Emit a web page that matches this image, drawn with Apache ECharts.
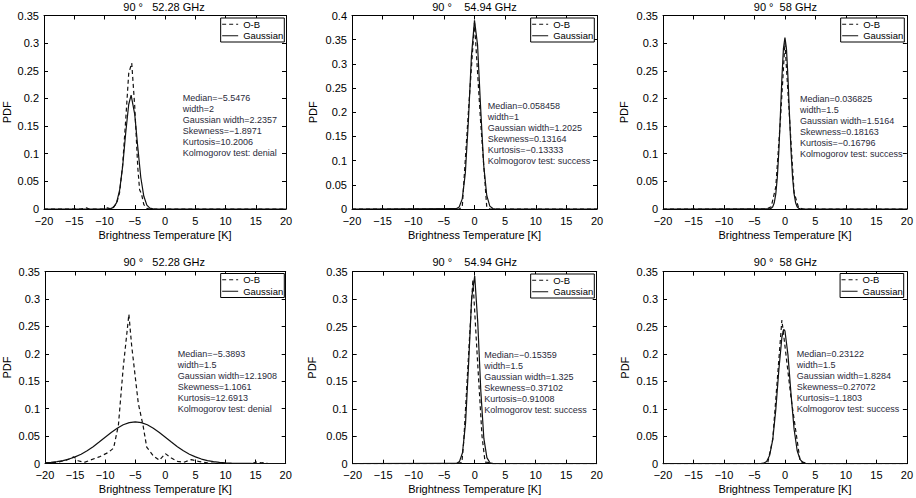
<!DOCTYPE html>
<html><head><meta charset="utf-8">
<script src="https://cdn.jsdelivr.net/npm/echarts@6/dist/echarts.min.js"></script>
<style>html,body{margin:0;padding:0;background:#fff}#c{width:916px;height:498px}</style>
</head><body><div id="c"></div>
<script>
// ---- data ----
const xMin = -20, xMax = 20, xStep = 5;
const yMaxes = [0.35, 0.4, 0.35, 0.35, 0.35, 0.35];
const panelTitles = ['90 °   52.28 GHz', '90 °    54.94 GHz', '90 °  58 GHz',
                     '90 °   52.28 GHz', '90 °    54.94 GHz', '90 °  58 GHz'];
const seriesNames = ['O-B', 'Gaussian'];

const obP1 = [[-20,0],[-14,0],[-13,0.002],[-12.5,0],[-10,0],[-9.5,0.002],[-9,0],[-8.5,0.004],[-8,0.01],[-7.5,0.03],[-7,0.08],[-6.5,0.16],[-6,0.245],[-5.5,0.264],[-5,0.185],[-4.5,0.075],[-4.2,0.035],[-3.9,0.028],[-3.5,0.008],[-3,0.001],[-2.5,0],[20,0]];
const gaP1 = [[-20,0],[-9.5,0],[-9,0.0006],[-8.5,0.003],[-8,0.0115],[-7.5,0.034],[-7,0.077],[-6.5,0.137],[-6,0.189],[-5.6,0.206],[-5,0.171],[-4.5,0.112],[-4,0.057],[-3.5,0.023],[-3,0.007],[-2.5,0.0017],[-2,0.0003],[-1.5,0],[20,0]];

const obP2 = [[-20,0],[-2.5,0],[-2,0.004],[-1,0.2],[0,0.385],[1,0.18],[2,0.004],[2.5,0],[20,0]];
const gaP2 = [[-20,0],[-3,0.0006],[-2.5,0.0043],[-2,0.021],[-1.5,0.074],[-1,0.182],[-0.5,0.316],[0,0.39],[0.5,0.339],[1,0.209],[1.5,0.091],[2,0.028],[2.5,0.006],[3,0.0009],[3.5,0],[20,0]];

const obP3 = [[-20,0],[-3,0],[-2.25,0.004],[-1.5,0.04],[-0.75,0.16],[0,0.30],[0.75,0.165],[1.5,0.03],[2.25,0.002],[3,0],[20,0]];
const gaP3 = [[-20,0],[-2.5,0.0003],[-2.25,0.0013],[-2,0.0041],[-1.75,0.0113],[-1.5,0.0272],[-1.25,0.057],[-1,0.105],[-0.75,0.169],[-0.5,0.237],[-0.25,0.29],[0,0.31],[0.25,0.29],[0.5,0.237],[0.75,0.169],[1,0.105],[1.25,0.057],[1.5,0.0272],[1.75,0.0113],[2,0.0041],[2.25,0.0013],[2.5,0.0003],[3,0],[20,0]];

const obP4 = [[-20,0.001],[-18,0.002],[-16.5,0.006],[-15.2,0.012],[-14.5,0.005],[-13.5,0.002],[-12.5,0.006],[-11,0.012],[-9.5,0.02],[-8.6,0.028],[-7.8,0.07],[-7,0.175],[-6.06,0.272],[-5.6,0.215],[-4.5,0.11],[-3.7,0.069],[-3.1,0.03],[-2,0.014],[-1,0.006],[0,0.018],[1,0.01],[2,0.004],[3,0.002],[4.3,0.007],[5.5,0.004],[7,0.001],[9,0],[14.5,0],[15.2,0.003],[16,0.001],[16.5,0.002],[17,0],[20,0]];
const gaP4 = [[-20,0.0012],[-19,0.002],[-18,0.0033],[-17,0.0053],[-16,0.0081],[-15,0.012],[-14,0.017],[-13,0.0233],[-12,0.0307],[-11,0.0391],[-10,0.0479],[-9,0.0565],[-8,0.0643],[-7,0.0706],[-6,0.0746],[-5,0.076],[-4,0.0746],[-3,0.0706],[-2,0.0643],[-1,0.0565],[0,0.0479],[1,0.0391],[2,0.0307],[3,0.0233],[4,0.017],[5,0.012],[6,0.0081],[7,0.0053],[8,0.0033],[9,0.002],[10,0.0012],[11,0.0007],[12,0.0004],[13,0.0002],[14,0.0001],[15,0],[20,0]];

const obP5 = [[-20,0],[-3,0],[-2.1,0.002],[-1.8,0.04],[-1.05,0.19],[-0.3,0.336],[0.45,0.19],[1.2,0.05],[1.7,0.003],[2.5,0.002],[3,0],[20,0]];
const gaP5 = [[-20,0],[-3,0.0005],[-2.5,0.0038],[-2,0.02],[-1.5,0.074],[-1,0.182],[-0.5,0.302],[0,0.342],[0.5,0.258],[1,0.133],[1.5,0.046],[2,0.011],[2.5,0.0017],[3,0.0002],[3.5,0],[20,0]];

const obP6 = [[-20,0],[-3.5,0],[-2.8,0.003],[-2,0.045],[-0.5,0.262],[1,0.12],[2.5,0.004],[3.2,0.002],[3.6,0],[20,0]];
const gaP6 = [[-20,0],[-4,0.0001],[-3.5,0.0009],[-3,0.0042],[-2.5,0.0155],[-2,0.044],[-1.5,0.0985],[-1,0.171],[-0.5,0.2305],[-0.2,0.245],[0,0.2423],[0.5,0.198],[1,0.1265],[1.5,0.063],[2,0.024],[2.5,0.0073],[3,0.0017],[3.5,0.0003],[4,0],[20,0]];

const obData = [obP1, obP2, obP3, obP4, obP5, obP6];
const gaData = [gaP1, gaP2, gaP3, gaP4, gaP5, gaP6];

const statsP1 = ['Median=\u22125.5476','width=2','Gaussian width=2.2357','Skewness=\u22121.8971','Kurtosis=10.2006','Kolmogorov test: denial'];
const statsP2 = ['Median=0.058458','width=1','Gaussian width=1.2025','Skewness=0.13164','Kurtosis=\u22120.13333','Kolmogorov test: success'];
const statsP3 = ['Median=0.036825','width=1.5','Gaussian width=1.5164','Skewness=0.18163','Kurtosis=\u22120.16796','Kolmogorov test: success'];
const statsP4 = ['Median=\u22125.3893','width=1.5','Gaussian width=12.1908','Skewness=1.1061','Kurtosis=12.6913','Kolmogorov test: denial'];
const statsP5 = ['Median=\u22120.15359','width=1.5','Gaussian width=1.325','Skewness=0.37102','Kurtosis=0.91008','Kolmogorov test: success'];
const statsP6 = ['Median=0.23122','width=1.5','Gaussian width=1.8284','Skewness=0.27072','Kurtosis=1.1803','Kolmogorov test: success'];
const stats = [statsP1, statsP2, statsP3, statsP4, statsP5, statsP6];

// ---- layout ----
const FONT = '"Liberation Sans", Arial, Helvetica, sans-serif';
const grids = [
  {left: 42,    top: 15.5,  width: 244,   height: 193.5},
  {left: 352,   top: 15.5,  width: 245,   height: 193.5},
  {left: 663,   top: 15.5,  width: 244.7, height: 193.5},
  {left: 42.7,  top: 271.5, width: 243,   height: 192},
  {left: 352.7, top: 271.7, width: 244,   height: 192},
  {left: 663,   top: 271.7, width: 244.7, height: 192}
];
const statPos = [[182.7, 98.3],[487.7,106],[800,99],[177.7,354.3],[484.3,354.7],[796.7,353.7]];
const legendPos = [[631.7,18],[321.7,18],[11.7,18],[631.7,273.5],[321.7,274],[12.3,273.5]];
const yNameGap = [32, 34, 34, 33, 35, 33];

const minus = v => String(v).replace('-', '\u2212');
const xAxis = [], yAxis = [], series = [], legend = [], graphic = [];
grids.forEach((g, i) => {
  const common = {type:'value', gridIndex:i, splitLine:{show:false},
    axisLine:{show:true, onZero:false, lineStyle:{color:'#000', width:1}},
    axisTick:{show:true, inside:true, length:4, lineStyle:{color:'#000', width:1}}};
  xAxis.push(Object.assign({}, common, {position:'bottom', min:xMin, max:xMax, interval:xStep,
    axisLabel:{fontSize:11, color:'#000', fontFamily:FONT, margin:6, formatter:minus},
    name:'Brightness Temperature [K]', nameLocation:'middle', nameGap:20,
    nameTextStyle:{fontSize:11, color:'#000', fontFamily:FONT}}));
  xAxis.push(Object.assign({}, common, {position:'top', min:xMin, max:xMax, interval:xStep, axisLabel:{show:false}}));
  yAxis.push(Object.assign({}, common, {position:'left', min:0, max:yMaxes[i], interval:0.05,
    axisLabel:{fontSize:11, color:'#000', fontFamily:FONT, margin:5, formatter: v => String(+v.toFixed(2))},
    name:'PDF', nameLocation:'middle', nameRotate:90, nameGap:yNameGap[i],
    nameTextStyle:{fontSize:11, color:'#000', fontFamily:FONT}}));
  yAxis.push(Object.assign({}, common, {position:'right', min:0, max:yMaxes[i], interval:0.05, axisLabel:{show:false}}));

  series.push({name:seriesNames[0], type:'line', xAxisIndex:2*i, yAxisIndex:2*i, data:obData[i],
    symbol:'none', z:3, lineStyle:{color:'#111', width:1.2, type:[4,3]}, itemStyle:{color:'#111'}, animation:false});
  series.push({name:seriesNames[1], type:'line', xAxisIndex:2*i, yAxisIndex:2*i, data:gaData[i],
    symbol:'none', z:2, lineStyle:{color:'#111', width:1.2}, itemStyle:{color:'#111'}, animation:false});

  legend.push({orient:'vertical', right:legendPos[i][0], top:legendPos[i][1], data:seriesNames,
    itemWidth:16, itemHeight:9, itemGap:1, padding:[1,1,1,1], borderColor:'#000', borderWidth:1,
    backgroundColor:'#fff', selectedMode:false, itemStyle:{opacity:0}, lineStyle:{width:1},
    textStyle:{fontSize:9.5, color:'#000', fontFamily:FONT, lineHeight:10.5}});

  graphic.push({type:'text', x:g.left + g.width/2, y:(i<3 ? 7 : 261.7), z:10,
    style:{text:panelTitles[i], fill:'#000', font:'11px ' + FONT, textAlign:'center', textVerticalAlign:'middle'}});
  graphic.push({type:'text', x:statPos[i][0], y:statPos[i][1] - 5.5, z:10,
    style:{text:stats[i].join('\n'), fill:'#2a2a3a', font:'9px ' + FONT, lineHeight:11, textAlign:'left', textVerticalAlign:'top'}});
});

const chart = echarts.init(document.getElementById('c'), null, {renderer:'svg'});
chart.setOption({animation:false, backgroundColor:'#fff', grid:grids, xAxis, yAxis, series, legend, graphic});
</script></body></html>
